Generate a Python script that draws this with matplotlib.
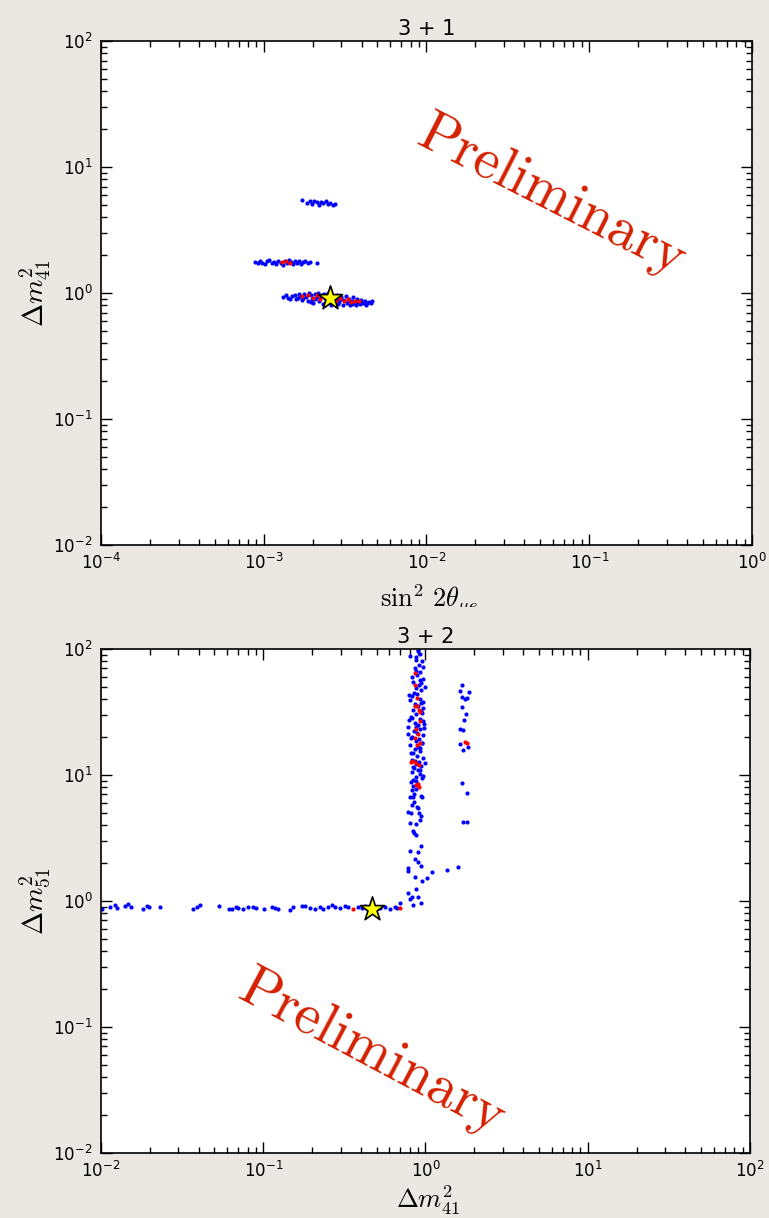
import numpy as np
import matplotlib
matplotlib.use('Agg')
import matplotlib.pyplot as plt
from matplotlib.transforms import Bbox

plt.rcParams['mathtext.fontset'] = 'cm'
plt.rcParams['font.family'] = 'DejaVu Sans'

# ================== 数据 ==================
# 3 + 1 : (sin^2 2theta, dm41^2)
top_blue_x = [0.00172, 0.00185, 0.00192, 0.00198, 0.00205, 0.00212, 0.00218, 0.00225, 0.00232, 0.00240,
              0.00248, 0.00255, 0.00265, 0.00275,
              0.00088, 0.00092, 0.00095, 0.00098, 0.00102, 0.00105, 0.00108, 0.00112, 0.00116, 0.00119,
              0.00123, 0.00127, 0.00131, 0.00135, 0.00139, 0.00143, 0.00147, 0.00152, 0.00156, 0.00160,
              0.00165, 0.00170, 0.00175, 0.00180, 0.00186, 0.00192, 0.00212,
              0.00132, 0.00138, 0.00145, 0.00150, 0.00155, 0.00158, 0.00163, 0.00168, 0.00172, 0.00178,
              0.00182, 0.00186, 0.00190, 0.00195, 0.00198, 0.00202, 0.00207, 0.00212, 0.00216, 0.00220,
              0.00225, 0.00230, 0.00234, 0.00238, 0.00243, 0.00248, 0.00252, 0.00258, 0.00263, 0.00268,
              0.00274, 0.00280, 0.00286, 0.00292, 0.00298, 0.00305, 0.00312, 0.00318, 0.00325, 0.00332,
              0.00340, 0.00348, 0.00355, 0.00363, 0.00372, 0.00380, 0.00390, 0.00398, 0.00408, 0.00418,
              0.00430, 0.00442, 0.00455, 0.00462, 0.00175, 0.00208, 0.00245, 0.00285, 0.00335, 0.00370,
              0.00140, 0.00165, 0.00195, 0.00228, 0.00300, 0.00350, 0.00395, 0.00425]
top_blue_y = [5.45, 5.20, 5.35, 5.10, 5.40, 5.25, 5.00, 5.30, 5.15, 5.35,
              5.05, 5.20, 5.00, 5.10,
              1.76, 1.72, 1.80, 1.74, 1.69, 1.78, 1.82, 1.73, 1.77, 1.70,
              1.81, 1.74, 1.68, 1.79, 1.72, 1.83, 1.76, 1.70, 1.78, 1.73,
              1.81, 1.69, 1.75, 1.79, 1.72, 1.77, 1.74,
              0.93, 0.96, 0.90, 0.94, 0.97, 0.89, 0.92, 0.95, 0.88, 0.99,
              0.93, 0.86, 1.00, 0.96, 0.90, 0.84, 0.98, 0.93, 1.01, 0.87,
              0.95, 0.82, 0.99, 0.91, 0.85, 1.00, 0.94, 0.81, 0.97, 0.88,
              0.83, 0.96, 0.90, 0.85, 0.93, 0.80, 0.88, 0.95, 0.84, 0.90,
              0.81, 0.87, 0.93, 0.83, 0.89, 0.85, 0.82, 0.88, 0.84, 0.86,
              0.83, 0.85, 0.84, 0.86, 0.91, 0.89, 0.96, 0.82, 0.86, 0.80,
              0.91, 0.98, 0.85, 0.97, 0.90, 0.82, 0.86, 0.81]
top_red_x = [0.00129, 0.00138, 0.00146,
             0.00172, 0.00188, 0.00200, 0.00212, 0.00222, 0.00235, 0.00250, 0.00262, 0.00278, 0.00295,
             0.00310, 0.00328, 0.00345, 0.00365, 0.00385]
top_red_y = [1.75, 1.78, 1.73,
             0.94, 0.97, 0.92, 0.96, 0.90, 0.94, 0.88, 0.92, 0.87, 0.91,
             0.86, 0.89, 0.85, 0.87, 0.86]
top_best = (0.00255, 0.91)

# 3 + 2 : (dm41^2, dm51^2)
bot_blue_x = [0.0101, 0.0114, 0.0122, 0.0126, 0.0141, 0.0147, 0.0153, 0.0182, 0.0192, 0.0198,
              0.0231, 0.0369, 0.0391, 0.0408, 0.0533, 0.0615, 0.0641, 0.0679, 0.0699, 0.0750,
              0.0805, 0.0864, 0.0902, 0.101, 0.113, 0.118, 0.123, 0.146, 0.152, 0.173,
              0.181, 0.194, 0.208, 0.224, 0.233, 0.251, 0.265, 0.277, 0.297, 0.319,
              0.333, 0.384, 0.406, 0.424, 0.455, 0.525, 0.563, 0.604, 0.648,
              # 竖直带 (上部)
              0.90, 0.93, 0.88, 0.95, 0.91, 0.86, 0.93, 0.89, 0.96, 0.84,
              0.91, 0.87, 0.94, 0.89, 0.82, 0.92, 0.97, 0.86, 0.90, 0.84,
              0.94, 0.88, 0.81, 0.92, 0.96, 0.86, 0.90, 0.78, 0.93, 0.85,
              0.89, 0.97, 0.83, 0.91, 0.87, 0.95, 0.80, 0.90, 0.86, 0.93,
              0.84, 0.89, 0.96, 0.82, 0.91, 0.87, 0.94, 0.85, 0.90, 0.83,
              0.92, 0.87, 0.95, 0.84, 0.87, 0.92, 0.85, 0.95, 0.88, 0.92,
              0.86, 0.93, 0.81, 0.98, 0.79, 0.94, 0.88, 0.90,
              0.80, 0.97, 0.83, 0.99, 0.79, 0.96, 0.82, 0.98, 0.78, 0.95,
              0.81, 0.99, 0.84, 0.97, 0.80, 0.94,
              # 竖直带 (中部)
              0.81, 0.873, 0.838, 0.826, 0.873, 0.85, 0.802, 0.838, 0.938, 0.951,
              0.85, 0.826, 0.886, 0.899, 0.780, 0.81, 0.912, 0.938, 0.925, 0.802,
              0.873, 0.838, 0.85, 0.873,
              # 竖直带 (下部) 与散点
              0.802, 0.899, 0.938, 0.861, 0.899, 0.938, 0.780, 0.780, 0.861, 0.780,
              0.873, 0.826, 0.802, 0.899, 0.838, 0.938, 0.70, 0.667,
              1.10, 1.02, 0.951, 1.36, 1.59,
              # 第二竖直带
              1.67, 1.63, 1.85, 1.67, 1.75, 1.80, 1.68, 1.77, 1.73, 1.63,
              1.70, 1.63, 1.83, 1.70, 1.68, 1.80, 1.70, 1.80]
bot_blue_y = [0.86, 0.89, 0.93, 0.88, 0.91, 0.94, 0.90, 0.87, 0.92, 0.89,
              0.90, 0.87, 0.89, 0.93, 0.92, 0.87, 0.86, 0.90, 0.88, 0.87,
              0.90, 0.89, 0.88, 0.86, 0.90, 0.88, 0.87, 0.85, 0.89, 0.92,
              0.91, 0.88, 0.87, 0.90, 0.87, 0.89, 0.93, 0.90, 0.88, 0.91,
              0.89, 0.90, 0.88, 0.91, 0.89, 0.88, 0.90, 0.87, 0.89,
              96, 92, 86, 80, 75, 70, 66, 62, 58, 55,
              52, 49, 47, 44, 42, 40, 38, 36.5, 35, 33,
              32, 30.5, 29, 28, 27, 26, 25, 24, 23, 22.2,
              21.5, 20.7, 20, 19.2, 18.5, 17.8, 17.2, 16.6, 16, 15.4,
              14.8, 14.2, 13.7, 13.2, 12.7, 12.2, 11.8, 11.3, 10.9, 10.5,
              10.1, 9.7, 9.4, 9.1, 82, 57, 45, 31, 24, 16.3,
              13.0, 11.0, 19.5, 23.5, 27.5, 37, 67, 99,
              88, 72, 60, 50, 43, 34, 28.5, 25.5, 21, 18,
              15, 12.4, 11.5, 9.9, 39, 54,
              8.81, 8.96, 8.19, 7.61, 7.75, 7.06, 6.68, 6.68, 6.81, 6.68,
              6.11, 5.78, 5.56, 5.46, 5.08, 4.99, 4.99, 4.73, 4.40, 4.16,
              4.09, 3.60, 3.46, 3.34,
              2.50, 2.43, 2.74, 2.15, 2.05, 1.90, 1.83, 1.74, 1.55, 1.16,
              1.245, 1.08, 1.04, 1.08, 0.93, 0.964, 0.964, 0.88,
              1.70, 1.52, 1.44, 1.76, 1.86,
              51.8, 46.4, 45.6, 41.6, 40.1, 40.9, 34.7, 30.5, 27.3, 23.2,
              22.8, 17.6, 16.7, 15.8, 8.65, 7.2, 4.24, 4.24]
bot_red_x = [0.357, 0.697,
             0.86, 0.886, 0.89, 0.86, 0.91, 0.93, 0.873, 0.90, 0.86, 0.92,
             0.89, 0.84, 0.88, 0.91, 0.81, 0.87, 0.899, 0.912, 0.86, 0.92,
             1.75, 1.80]
bot_red_y = [0.87, 0.88,
             52, 41, 35, 35, 33, 31.5, 23, 21, 19.5, 18,
             17.3, 13, 12.5, 12, 12.6, 8.3, 8.49, 8.04, 65, 27,
             18.3, 17.9]
bot_best = (0.47, 0.86)

# ================== 绘图 ==================
bg = '#ebe8e3'
fig = plt.figure(figsize=(7.69, 12.18), dpi=100, facecolor=bg)

ax1 = fig.add_axes([0.1313, 0.5525, 0.8466, 0.4138])
ax2 = fig.add_axes([0.1313, 0.0534, 0.8440, 0.4138])

def style(ax):
    ax.set_xscale('log')
    ax.set_yscale('log')
    ax.tick_params(which='both', direction='in', top=True, right=True, labelsize=12, pad=6)
    ax.tick_params(which='major', length=8, width=1)
    ax.tick_params(which='minor', length=4, width=1)
    for s in ax.spines.values():
        s.set_linewidth(1.2)

ax1.scatter(top_blue_x, top_blue_y, s=9, c='b', linewidths=0, zorder=2)
ax1.scatter(top_red_x, top_red_y, s=9, c='r', linewidths=0, zorder=3)
ax1.scatter([top_best[0]], [top_best[1]], s=330, marker='*', facecolor='yellow',
            edgecolor='black', linewidths=1.2, zorder=4)
style(ax1)
ax1.set_xlim(1e-4, 1)
ax1.set_ylim(1e-2, 1e2)
ax1.set_title('3 + 1', fontsize=15, pad=4)
ax1.set_ylabel(r'$\Delta m^2_{41}$', fontsize=20, labelpad=0)

ax2.scatter(bot_blue_x, bot_blue_y, s=9, c='b', linewidths=0, zorder=2)
ax2.scatter(bot_red_x, bot_red_y, s=9, c='r', linewidths=0, zorder=3)
ax2.scatter([bot_best[0]], [bot_best[1]], s=330, marker='*', facecolor='yellow',
            edgecolor='black', linewidths=1.2, zorder=4)
style(ax2)
ax2.set_xlim(1e-2, 1e2)
ax2.set_ylim(1e-2, 1e2)
ax2.set_title('3 + 2', fontsize=15, pad=4)
ax2.set_ylabel(r'$\Delta m^2_{51}$', fontsize=20, labelpad=0)

# x 标签（被裁掉一部分）
t1 = fig.text(0.559, 1 - 600 / 1218, r'$\sin^2\, 2\theta_{\mu e}$', fontsize=19,
              ha='center', va='center')
t1.set_clip_box(Bbox.from_extents(0, 1218 - 607, 769, 1218))
t1.set_clip_on(True)
fig.text(0.557, 1 - 1200 / 1218, r'$\Delta m^2_{41}$', fontsize=19, ha='center', va='center')

# Preliminary 水印
red = '#d42000'
fig.text(552 / 769, 1 - 197 / 1218, 'Preliminary', fontsize=41, family='cmr10',
         color=red, rotation=-27, ha='center', va='center')
fig.text(372 / 769, 1 - 1053 / 1218, 'Preliminary', fontsize=41, family='cmr10',
         color=red, rotation=-28, ha='center', va='center')

plt.savefig('out.png', dpi=100, facecolor=bg)
